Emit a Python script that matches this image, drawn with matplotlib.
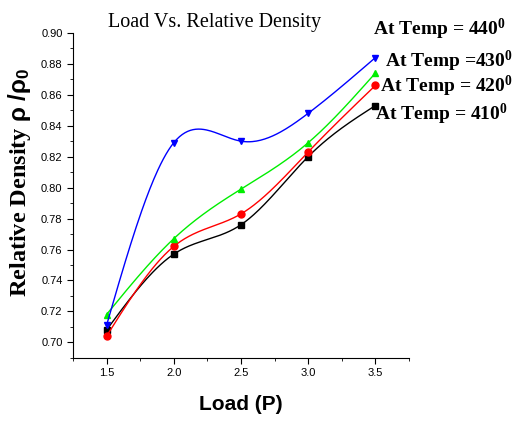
import numpy as np
import matplotlib.pyplot as plt
from matplotlib.ticker import MultipleLocator

plt.rcParams['mathtext.fontset'] = 'custom'
plt.rcParams['mathtext.rm'] = 'Liberation Serif:bold'
plt.rcParams['mathtext.it'] = 'Liberation Serif:bold'
plt.rcParams['mathtext.bf'] = 'Liberation Serif:bold'
plt.rcParams['mathtext.sf'] = 'Liberation Sans:bold'

# Data
load = [1.5, 2.0, 2.5, 3.0, 3.5]
temp_410 = [0.708, 0.757, 0.776, 0.820, 0.853]
temp_420 = [0.704, 0.762, 0.783, 0.823, 0.866]
temp_430 = [0.718, 0.767, 0.799, 0.829, 0.874]
temp_440 = [0.711, 0.829, 0.830, 0.848, 0.884]
labels = ["At Temp = 440", "At Temp =430", "At Temp = 420", "At Temp = 410"]


def smooth(x, y, n=200):
    # natural cubic spline, only used to draw the connecting curve
    x = np.asarray(x, float)
    y = np.asarray(y, float)
    k = len(x)
    h = np.diff(x)
    A = np.zeros((k, k))
    b = np.zeros(k)
    A[0, 0] = A[-1, -1] = 1
    for i in range(1, k - 1):
        A[i, i - 1] = h[i - 1]
        A[i, i] = 2 * (h[i - 1] + h[i])
        A[i, i + 1] = h[i]
        b[i] = 6 * ((y[i + 1] - y[i]) / h[i] - (y[i] - y[i - 1]) / h[i - 1])
    m = np.linalg.solve(A, b)
    xs = np.linspace(x[0], x[-1], n)
    idx = np.clip(np.searchsorted(x, xs) - 1, 0, k - 2)
    x0, x1 = x[idx], x[idx + 1]
    hh = x1 - x0
    t0, t1 = x1 - xs, xs - x0
    ys = (m[idx] * t0**3 + m[idx + 1] * t1**3) / (6 * hh) \
        + (y[idx] / hh - m[idx] * hh / 6) * t0 \
        + (y[idx + 1] / hh - m[idx + 1] * hh / 6) * t1
    return xs, ys


fig = plt.figure(figsize=(5.21, 4.21), dpi=100)
ax = fig.add_axes([0.140, 0.150, 0.645, 0.772])

series = [
    (temp_410, "black", "s"),
    (temp_420, "red", "o"),
    (temp_430, "#00ee00", "^"),
    (temp_440, "blue", "v"),
]
for vals, col, mk in series:
    xs, ys = smooth(load, vals)
    ax.plot(xs, ys, color=col, lw=1)
    ax.plot(load, vals, linestyle="none", marker=mk, color=col, markersize=5)

ax.set_xlim(1.25, 3.75)
ax.set_ylim(0.69, 0.90)
ax.xaxis.set_major_locator(MultipleLocator(0.5))
ax.xaxis.set_minor_locator(MultipleLocator(0.25))
ax.yaxis.set_minor_locator(MultipleLocator(0.01))
ax.set_yticks(np.arange(0.70, 0.901, 0.02))
ax.spines["top"].set_visible(False)
ax.spines["right"].set_visible(False)
ax.tick_params(which="both", direction="out", labelsize=8)
ax.tick_params(which="major", length=4)
ax.tick_params(which="minor", length=2.5)
for lab in ax.get_xticklabels() + ax.get_yticklabels():
    lab.set_family("Liberation Sans")

ax.set_xlabel("Load (P)", fontsize=15, fontweight="bold", family="Liberation Sans", labelpad=12)
ax.set_ylabel("Relative Density $\\mathsf{ρ\\ /ρ_0}$", fontsize=17.5, fontweight="bold",
              family="Liberation Serif")
ax.yaxis.set_label_coords(-0.119, 0.54)

fig.text(108 / 521, 1 - 27 / 421, "Load Vs. Relative Density", fontsize=14.5,
         family="Liberation Serif", va="baseline")

label_pos = [(373, 35), (385, 67), (380, 92), (375, 120)]
for text, (px, py) in zip(labels, label_pos):
    fig.text(px / 521, 1 - py / 421, text + "$^0$", fontsize=14, fontweight="bold",
             family="Liberation Serif", va="baseline")

plt.savefig("out.png", dpi=100)
